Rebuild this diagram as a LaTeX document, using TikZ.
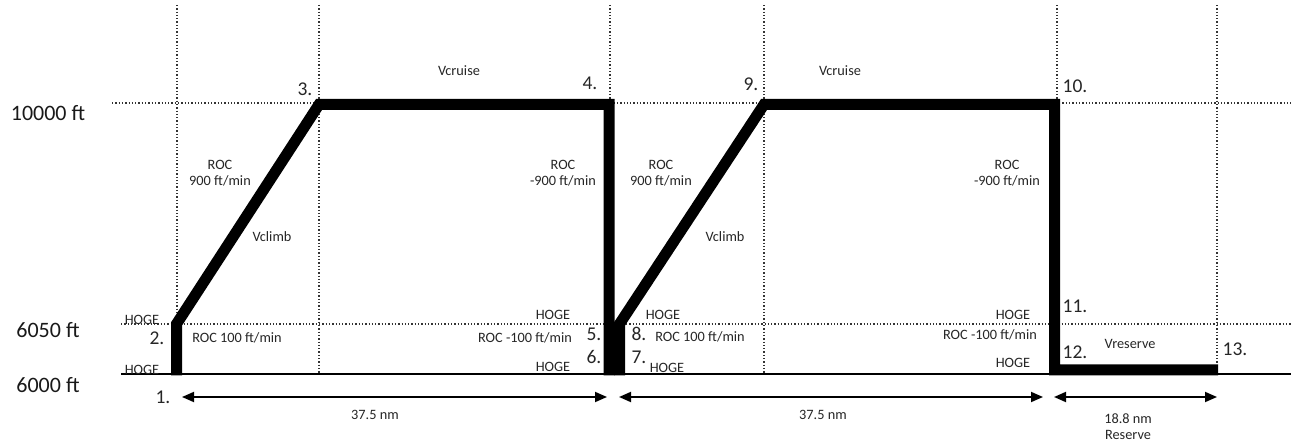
\documentclass[tikz,border=0pt]{standalone}
\usepackage{fontspec}
\setmainfont{Carlito}
\usetikzlibrary{arrows.meta}
\tikzset{
  grid/.style={line width=1.3pt, dotted, black!80},
  flight/.style={line width=11pt, line join=miter, black},
  axisline/.style={line width=1.6pt, black},
  dim/.style={line width=1.8pt, {Triangle[length=12pt,width=10pt]}-{Triangle[length=12pt,width=10pt]}},
  lbl/.style={inner sep=0pt, font=\fontsize{14.3}{16}\selectfont, text=black!85, align=center},
  num/.style={inner sep=0pt, font=\fontsize{19.5}{21}\selectfont, text=black!85},
  alt/.style={inner sep=0pt, font=\fontsize{22}{24}\selectfont, text=black!90},
}
\begin{document}
\begin{tikzpicture}[x=1pt,y=-1pt]
\useasboundingbox (0,0) rectangle (1291,443);
% grid
\foreach \xx/\nm in {177/a,319/b,610/c,764/d,1057/e}{
  \coordinate (vt\nm) at (\xx,5); \coordinate (vb\nm) at (\xx,374);
  \draw[grid] (vt\nm) -- (vb\nm);}
\coordinate (vtf) at (1217,5); \coordinate (vbf) at (1217,364);
\draw[grid] (vtf) -- (vbf);
\coordinate (h1l) at (112,103); \coordinate (h1r) at (1291,103);
\coordinate (h2l) at (121,324); \coordinate (h2r) at (1291,324);
\coordinate (axl) at (121,374); \coordinate (axr) at (1291,374);
\draw[grid] (h1l) -- (h1r);
\draw[grid] (h2l) -- (h2r);
\draw[axisline] (axl) -- (axr);
% flight profile
\coordinate (p1) at (176.5,375.5);
\coordinate (p2) at (176.5,324);
\coordinate (p3) at (319,104.5);
\coordinate (p4) at (609,104.5);
\coordinate (p5) at (609,375.5);
\draw[flight] (p1) -- (p2) -- (p3) -- (p4) -- (p5);
\coordinate (q1) at (619.5,375.5);
\coordinate (q2) at (619.5,324);
\coordinate (q3) at (764,104.5);
\coordinate (q4) at (1054.5,104.5);
\coordinate (q5) at (1054.5,370);
\coordinate (q6) at (1218,370);
\draw[flight] (q1) -- (q2) -- (q3) -- (q4) -- (q5) -- (q6);
% altitude labels
\node[alt] (a10000) at (48,113) {10000 ft};
\node[alt] (a6050) at (48,330) {6050 ft};
\node[alt] (a6000) at (48,385) {6000 ft};
% numbers
\node[num] (n1) at (163,397) {1.};
\node[num] (n2) at (157,338) {2.};
\node[num] (n3) at (305,89) {3.};
\node[num] (n4) at (590,83) {4.};
\node[num] (n5) at (594,334) {5.};
\node[num] (n6) at (594,357) {6.};
\node[num] (n7) at (639,357) {7.};
\node[num] (n8) at (639,334) {8.};
\node[num] (n9) at (751,84) {9.};
\node[num] (n10) at (1075,86) {10.};
\node[num] (n11) at (1075,306) {11.};
\node[num] (n12) at (1075,352) {12.};
\node[num] (n13) at (1235,349) {13.};
% segment labels
\node[lbl] (vc1) at (459,71) {Vcruise};
\node[lbl] (vc2) at (840,71) {Vcruise};
\node[lbl] (rc1) at (220,173) {ROC\\900 ft/min};
\node[lbl] (rc2) at (661,173) {ROC\\900 ft/min};
\node[lbl] (rd1) at (563,173) {ROC\\-900 ft/min};
\node[lbl] (rd2) at (1007,173) {ROC\\-900 ft/min};
\node[lbl] (vcl1) at (272,237) {Vclimb};
\node[lbl] (vcl2) at (725,237) {Vclimb};
\node[lbl] (hg1) at (142,320) {HOGE};
\node[lbl] (hg2) at (142,370) {HOGE};
\node[lbl] (hg3) at (553,315) {HOGE};
\node[lbl] (hg4) at (553,367) {HOGE};
\node[lbl] (hg5) at (663,315) {HOGE};
\node[lbl] (hg6) at (667,368) {HOGE};
\node[lbl] (hg7) at (1013,315) {HOGE};
\node[lbl] (hg8) at (1013,363) {HOGE};
\node[lbl] (ru1) at (237,338) {ROC 100 ft/min};
\node[lbl] (ru2) at (700,337) {ROC 100 ft/min};
\node[lbl] (rdn1) at (525,338) {ROC -100 ft/min};
\node[lbl] (rdn2) at (990,335) {ROC -100 ft/min};
\node[lbl] (vres) at (1130,344) {Vreserve};
% dimension arrows
\coordinate (d1l) at (182,397); \coordinate (d1r) at (607,397);
\coordinate (d2l) at (619,397); \coordinate (d2r) at (1043,397);
\coordinate (d3l) at (1054,397); \coordinate (d3r) at (1217,397);
\draw[dim] (d1l) -- (d1r);
\draw[dim] (d2l) -- (d2r);
\draw[dim] (d3l) -- (d3r);
\node[lbl] (dist1) at (375,415) {37.5 nm};
\node[lbl] (dist2) at (823,415) {37.5 nm};
\node[lbl] (dist3) at (1128,427) {18.8 nm\\Reserve};
\end{tikzpicture}
\end{document}
